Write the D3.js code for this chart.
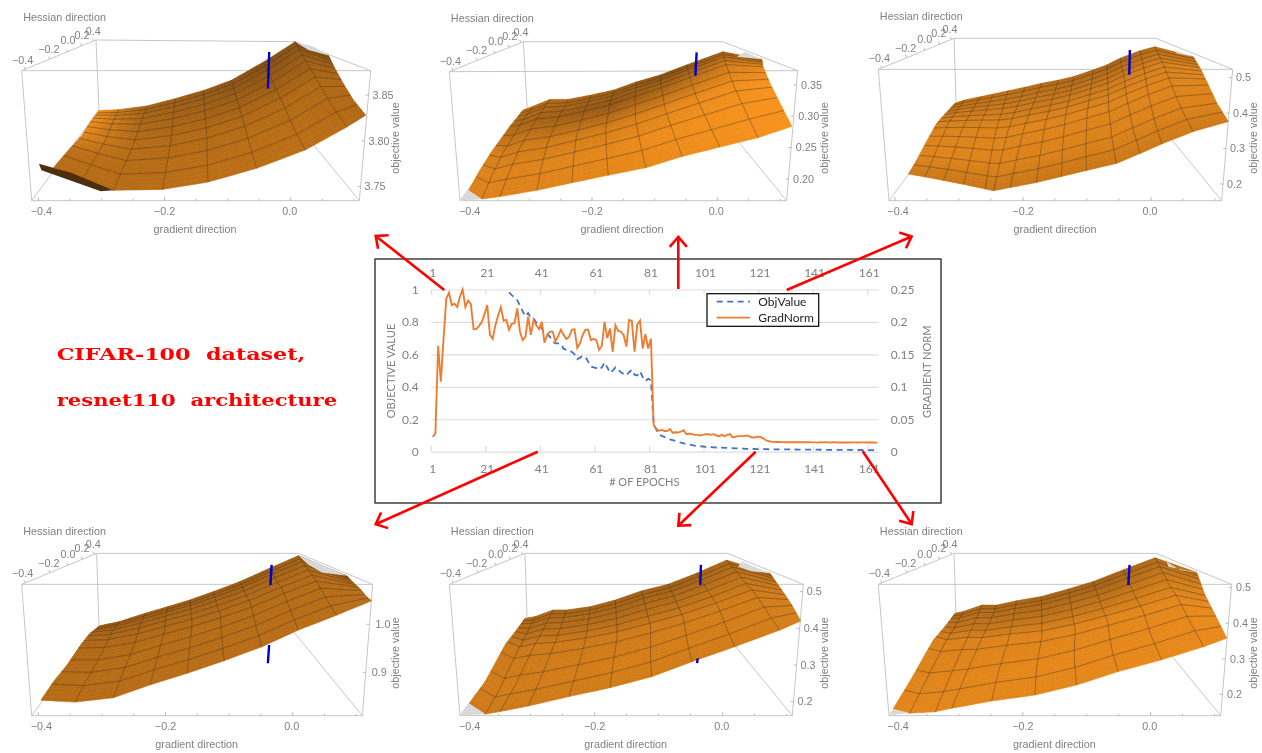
<!DOCTYPE html>
<html><head><meta charset="utf-8">
<script src="https://cdn.jsdelivr.net/npm/d3@7/dist/d3.min.js"></script>
<style>html,body{margin:0;padding:0;background:#fff}svg{display:block;filter:blur(0.35px)}</style>
</head><body><svg id="c" width="1262" height="753"></svg>
<script>
// ---------- line chart data ----------
const firstObjEpoch = 29;
const epochTicks = [1,21,41,61,81,101,121,141,161];
const objTicks = [0,0.2,0.4,0.6,0.8,1];
const gradTicks = [0,0.05,0.1,0.15,0.2,0.25];
const gradNorm = [.023,.028,.163,.108,.175,.236,.245,.226,.228,.223,.239,.25,.223,.233,.228,.189,.189,.194,.2,.212,
.226,.18,.174,.195,.21,.223,.202,.203,.188,.197,.198,.221,.185,.172,.177,.208,.18,.203,.195,.189,
.2,.168,.18,.185,.185,.17,.178,.188,.18,.174,.177,.188,.189,.16,.167,.18,.188,.188,.172,.174,
.172,.157,.163,.2,.175,.19,.154,.195,.186,.185,.18,.162,.203,.202,.154,.196,.202,.159,.181,.159,
.174,.041,.035,.0325,.0335,.032,.032,.035,.029,.03,.0295,.031,.033,.027,.028,.027,.026,.026,.025,.026,
.027,.027,.026,.027,.025,.024,.026,.024,.026,.027,.022,.023,.024,.024,.024,.025,.024,.022,.022,.023,
.023,.021,.018,.0165,.0155,.0152,.015,.015,.0148,.0146,.0146,.0145,.0147,.0146,.0145,.0145,.0147,.0145,.0146,.0144,
.0143,.014,.0146,.0143,.0145,.0144,.0142,.0145,.0144,.0142,.0143,.0141,.0143,.0142,.0143,.0144,.0142,.0143,.0144,.0141,
.0142,.0143,.0141,.014];
const objValue = [.982,.965,.95,.935,.9,.865,.835,.855,.825,.822,.795,.775,.76,.73,.725,.708,.68,.668,.668,.665,
.635,.628,.626,.615,.6,.57,.58,.59,.585,.555,.525,.52,.515,.505,.52,.55,.52,.485,.5,.52,
.505,.49,.478,.47,.49,.505,.475,.47,.495,.46,.435,.45,.44,.175,.135,.105,.098,.09,.082,.076,
.071,.066,.061,.056,.052,.049,.045,.041,.037,.035,.034,.032,.03,.029,.028,.027,.026,.026,.025,.024,
.023,.023,.022,.021,.02,.02,.019,.018,.018,.017,.0165,.016,.016,.0155,.0155,.015,.015,.0148,.0146,.0145,
.0143,.0142,.014,.0138,.0136,.0135,.0133,.0132,.013,.0128,.0127,.0125,.0124,.0122,.012,.0119,.0118,.0116,.0115,.0114,
.0113,.0112,.0111,.011,.011,.0108,.0107,.0106,.0105,.0104,.0103,.0102,.0101,.0101,.01,.01];
// ---------- surface readings: [gradient axis reading, objective axis reading] ----------
const front1=[[-.376,3.771],[-.329,3.759],[-.281,3.746],[-.203,3.747],[-.131,3.755],[-.054,3.770],[.023,3.790],[.089,3.815],[.119,3.828]];
const back1=[[-.304,3.833],[-.273,3.834],[-.228,3.838],[-.183,3.846],[-.138,3.855],[-.094,3.866],[-.043,3.886],[.007,3.908],[.060,3.893]];
const left1=[[-.352,3.790],[-.331,3.806],[-.317,3.821]];
const right1=[[.099,3.845],[.083,3.863],[.070,3.879]];
const front2=[[-.397,.182],[-.376,.168],[-.347,.172],[-.288,.182],[-.232,.194],[-.174,.206],[-.114,.218],[-.056,.236],[.004,.251],[.065,.266],[.119,.284]];
const back2=[[-.310,.310],[-.294,.316],[-.267,.327],[-.238,.327],[-.201,.334],[-.165,.342],[-.129,.355],[-.091,.366],[-.049,.382],[.009,.403],[.071,.391]];
const left2=[[-.379,.214],[-.360,.244],[-.331,.284]];
const right2=[[.100,.321],[.084,.353],[.073,.379]];
const front3=[[-.379,.228],[-.353,.220],[-.324,.210],[-.293,.199],[-.259,.186],[-.246,.181],[-.220,.190],[-.179,.204],[-.140,.221],[-.101,.238],[-.054,.258],[-.017,.286],[.017,.313],[.066,.348],[.121,.376]];
const back3=[[-.306,.428],[-.291,.437],[-.267,.446],[-.246,.454],[-.223,.463],[-.197,.473],[-.171,.484],[-.145,.493],[-.121,.503],[-.090,.522],[-.069,.536],[-.048,.555],[-.017,.576],[.006,.587],[.066,.559]];
const left3=[[-.366,.268],[-.351,.319],[-.335,.371],[-.320,.401]];
const right3=[[.103,.428],[.087,.489],[.077,.526]];
const front4=[[-.396,.842],[-.342,.838],[-.282,.847],[-.224,.874],[-.166,.898],[-.108,.924],[-.049,.953],[.009,.988],[.069,1.019],[.124,1.049]];
const back4=[[-.303,.997],[-.272,1.006],[-.232,1.023],[-.196,1.037],[-.161,1.051],[-.125,1.068],[-.083,1.089],[-.036,1.117],[.009,1.143],[.085,1.101]];
const left4=[[-.376,.881],[-.355,.915],[-.332,.960],[-.319,.981]];
const right4=[[.116,1.058],[.106,1.074],[.095,1.087]];
const front5=[[-.396,.195],[-.371,.166],[-.348,.173],[-.304,.188],[-.240,.214],[-.176,.238],[-.111,.268],[-.048,.309],[.019,.350],[.089,.395],[.122,.420]];
const back5=[[-.309,.427],[-.293,.432],[-.265,.450],[-.244,.450],[-.207,.459],[-.168,.477],[-.127,.502],[-.085,.520],[-.041,.550],[.006,.586],[.074,.550]];
const left5=[[-.371,.255],[-.340,.355],[-.324,.391]];
const right5=[[.108,.464],[.092,.505]];
const front6=[[-.403,.159],[-.377,.147],[-.337,.151],[-.311,.161],[-.249,.181],[-.181,.198],[-.116,.226],[-.051,.264],[.017,.297],[.083,.334],[.119,.358]];
const back6=[[-.306,.428],[-.293,.433],[-.264,.451],[-.241,.451],[-.210,.463],[-.171,.475],[-.129,.496],[-.090,.517],[-.043,.550],[.007,.584],[.072,.543]];
const left6=[[-.377,.236],[-.340,.353],[-.322,.390]];
const right6=[[.101,.423],[.085,.479]];
// brightness of the surface, rows front to back, columns left to right
const shade1=[[.62,.62,.66,.66,.6],[.66,.62,.64,.64,.58],[.85,.62,.6,.6,.58],[.95,.55,.5,.45,.5],[1,.5,.42,.3,.38]];
const shade2=[[.85,.85,.88,.95,1],[.85,.85,.9,.97,1],[.8,.78,.78,.9,1],[.6,.5,.4,.55,.9],[.65,.6,.5,.35,.6]];
const shade3=[[.74,.72,.72,.74,.76],[.86,.85,.84,.84,.84],[.84,.86,.86,.86,.86],[.74,.76,.72,.76,.84],[.66,.64,.6,.5,.66]];
const shade4=[[.62,.63,.63,.63,.63],[.62,.63,.63,.63,.63],[.6,.62,.62,.62,.63],[.54,.55,.56,.58,.6],[.5,.48,.46,.44,.5]];
const shade5=[[.76,.76,.78,.78,.8],[.78,.78,.8,.8,.8],[.74,.76,.76,.78,.78],[.62,.64,.6,.64,.72],[.58,.54,.5,.46,.6]];
const shade6=[[.88,.88,.88,.9,.9],[.86,.88,.9,.9,.92],[.84,.84,.86,.88,.9],[.68,.68,.66,.7,.82],[.6,.56,.52,.48,.66]];
const rows10=[0,.17,.32,.45,.56,.66,.75,.83,.9,.95,1];
const rows12=[0,.13,.25,.36,.46,.55,.63,.7,.77,.83,.89,.95,1];
// clipped (light grey) facets
const gray1=[[[.007,3.908],[.028,3.899],[.060,3.893],[.036,3.903]]];
const gray2=[[[-.411,.165],[-.397,.182],[-.376,.168]],[[.031,.395],[.044,.403],[.071,.391]]];
const gray3=[[[.037,.578],[.040,.569],[.066,.559]]];
const gray4=[[[.009,1.143],[.025,1.124],[.046,1.108],[.085,1.101],[.046,1.124]]];
const gray5=[[[-.410,.162],[-.396,.195],[-.371,.166]],[[.024,.568],[.030,.582],[.074,.550],[.045,.556]]];
const gray6=[[[-.410,.142],[-.403,.159],[-.377,.147]],[[.025,.573],[.028,.559],[.072,.543],[.046,.550]]];
// dark underside, panel 1
const flap1=[[-.399,3.775],[-.395,3.768],[-.301,3.745],[-.281,3.746],[-.347,3.765]];
// blue marker segments
const blue1=[[[-.034,3.897],[-.036,3.857]]];
const blue2=[[[-.033,.402],[-.035,.365]]];
const blue3=[[[-.033,.578],[-.034,.508]]];
const blue4=[[[-.033,1.124],[-.035,1.082]],[[-.037,.957],[-.039,.919]]];
const blue5=[[[-.034,.573],[-.035,.518]],[[-.039,.318],[-.040,.305]]];
const blue6=[[[-.033,.564],[-.035,.507]]];
const gradLabels=[-.4,-.2,0];
const gradMinor=[-.4,-.35,-.3,-.25,-.2,-.15,-.1,-.05,0,.05,.1];
const hessLabels=[-.4,-.2,0,.2,.4];
const ticks1=[3.75,3.8,3.85], ticks2=[.2,.25,.3,.35], ticks3=[.2,.3,.4,.5], ticks4=[.9,1.0], ticks5=[.2,.3,.4,.5], ticks6=[.2,.3,.4,.5];

// ---------- layout (pixels) ----------
const panels=[
 {ox:0,oy:0,Xa:115,Xb:872,zHi:3.85,Yh:285,zLo:3.75,Yl:560,fmt:".2f",ticks:ticks1,lx:4,tx:195,tdx:25,
  TL:[65,212],TR:[1112,212],BL:[95,602],BR:[1078,602],bTL:[288,120],bTR:[885,125],
  front:front1,back:back1,left:left1,right:right1,shade:shade1,rows:rows10,gray:gray1,blue:blue1,flap:flap1},
 {ox:430,oy:0,Xa:110,Xb:862,zHi:.35,Yh:255,zLo:.2,Yl:537,fmt:".2f",ticks:ticks2,lx:4.5,tx:192,tdx:26.6,
  TL:[58,215],TR:[1103,212],BL:[90,602],BR:[1070,602],bTL:[280,125],bTR:[878,125],
  front:front2,back:back2,left:left2,right:right2,shade:shade2,rows:rows10,gray:gray2,blue:blue2},
 {ox:860,oy:0,Xa:105,Xb:873,zHi:.5,Yh:233,zLo:.2,Yl:552,fmt:".1f",ticks:ticks3,lx:4,tx:195,tdx:21,
  TL:[55,208],TR:[1118,208],BL:[87,602],BR:[1085,602],bTL:[282,115],bTR:[888,115],
  front:front3,back:back3,left:left3,right:right3,shade:shade3,rows:rows12,gray:gray3,blue:blue3},
 {ox:0,oy:515,Xa:115,Xb:878,zHi:1.0,Yh:328,zLo:.9,Yl:472,fmt:".1f",ticks:ticks4,lx:6,tx:196.7,tdx:23,
  TL:[65,208],TR:[1118,208],BL:[95,602],BR:[1087,602],bTL:[290,115],bTR:[895,115],
  front:front4,back:back4,left:left4,right:right4,shade:shade4,rows:rows10,gray:gray4,blue:blue4},
 {ox:430,oy:515,Xa:110,Xb:878,zHi:.5,Yh:230,zLo:.2,Yl:560,fmt:".1f",ticks:ticks5,lx:4,tx:195.7,tdx:21,
  TL:[58,208],TR:[1120,208],BL:[90,602],BR:[1087,602],bTL:[285,115],bTR:[892,115],
  front:front5,back:back5,left:left5,right:right5,shade:shade5,rows:rows10,gray:gray5,blue:blue5},
 {ox:860,oy:515,Xa:105,Xb:872,zHi:.5,Yh:218,zLo:.2,Yl:538,fmt:".1f",ticks:ticks6,lx:4.5,tx:194.3,tdx:22,
  TL:[55,208],TR:[1115,208],BL:[87,602],BR:[1082,602],bTL:[282,115],bTR:[888,115],
  front:front6,back:back6,left:left6,right:right6,shade:shade6,rows:rows10,gray:gray6,blue:blue6}
];
const svg=d3.select("#c");
const SANS="'Liberation Sans',Arial,sans-serif", TICK="#808080", FS=10.8;
const colorOf=d3.scaleLinear().domain([0,1]).range(["#4a2a08","#f7921c"]);
const at=(a,t)=>{const s=t*(a.length-1),i=Math.min(Math.floor(s),a.length-2),f=s-i;return[a[i][0]*(1-f)+a[i+1][0]*f,a[i][1]*(1-f)+a[i+1][1]*f];};
const bil=(m,u,v)=>{const r=v*(m.length-1),c=u*(m[0].length-1),i=Math.min(Math.floor(r),m.length-2),j=Math.min(Math.floor(c),m[0].length-2),fr=r-i,fc=c-j;
 return (m[i][j]*(1-fc)+m[i][j+1]*fc)*(1-fr)+(m[i+1][j]*(1-fc)+m[i+1][j+1]*fc)*fr;};

panels.forEach(p=>{
 const g=svg.append("g");
 const px=a=>[p.ox+a[0]/3,p.oy+a[1]/3];
 const x=d3.scaleLinear().domain([-.4,0]).range([p.ox+p.Xa/3,p.ox+p.Xb/3]);
 const y=d3.scaleLinear().domain([p.zLo,p.zHi]).range([p.oy+p.Yl/3,p.oy+p.Yh/3]);
 const TL=px(p.TL),TR=px(p.TR),BL=px(p.BL),BR=px(p.BR),bTL=px(p.bTL),bTR=px(p.bTR);
 const bBL=[BL[0]+67.3,BL[1]-90.7],bBR=[BR[0]-74.3,BR[1]-90.7];
 const line=d3.line();
 const edge=(a,b)=>g.append("path").attr("d",line([a,b])).attr("stroke","#c6c6c6").attr("stroke-width",1).attr("fill","none");
 [[bTL,bTR],[bTL,bBL],[BL,bBL],[BR,bBR],[TL,bTL],[TR,bTR],[TL,TR],[TL,BL],[TR,BR],[BL,BR]].forEach(e=>edge(e[0],e[1]));
 gradMinor.forEach(v=>{const major=Math.abs(v*10-Math.round(v*10))<1e-6&&Math.round(v*10)%2===0;
  g.append("path").attr("d",line([[x(v),BL[1]],[x(v),BL[1]-(major?3.5:2)]])).attr("stroke","#aaa").attr("stroke-width",.8).attr("fill","none");});
 const edgeX=yy=>TR[0]+(BR[0]-TR[0])*(yy-TR[1])/(BR[1]-TR[1]);
 p.ticks.forEach(v=>{const yy=y(v),xx=edgeX(yy);
  g.append("path").attr("d",line([[xx-3,yy],[xx,yy]])).attr("stroke","#aaa").attr("stroke-width",.8);
  g.append("text").attr("x",xx+p.lx).attr("y",yy).attr("dy","0.35em").attr("font-family",SANS).attr("font-size",FS).attr("fill",TICK).text(d3.format(p.fmt)(v));});
 const hOff=[[1,-10.7],[27.3,-21.4],[46.3,-30],[60.3,-35.7],[71.6,-39.7]],hT=[.05,.38,.62,.81,.97];
 hessLabels.forEach((v,i)=>{
  const t=hT[i],xx=TL[0]+(bTL[0]-TL[0])*t,yy=TL[1]+(bTL[1]-TL[1])*t;
  g.append("path").attr("d",line([[xx,yy],[xx-1.5,yy-2.5]])).attr("stroke","#aaa").attr("stroke-width",.8);
  g.append("text").attr("x",TL[0]+hOff[i][0]).attr("y",TL[1]+hOff[i][1]).attr("dy","0.35em").attr("text-anchor","middle")
   .attr("font-family",SANS).attr("font-size",FS).attr("fill",TICK).text(d3.format(".1f")(v).replace("-","\u2212"));});
 g.append("text").attr("x",TL[0]+1.5).attr("y",TL[1]-53.5).attr("dy","0.35em").attr("font-family",SANS).attr("font-size",FS).attr("fill",TICK).text("Hessian direction");
 gradLabels.forEach((v,i)=>g.append("text").attr("x",x(v)+[3,0,-1][i]).attr("y",BL[1]+11).attr("dy","0.35em").attr("text-anchor","middle")
   .attr("font-family",SANS).attr("font-size",FS).attr("fill",TICK).text(d3.format(".1f")(v).replace("-","\u2212")));
 g.append("text").attr("x",p.ox+p.tx).attr("y",BL[1]+28.6).attr("dy","0.35em").attr("text-anchor","middle").attr("font-family",SANS).attr("font-size",FS).attr("fill",TICK).text("gradient direction");
 g.append("text").attr("transform",`translate(${TR[0]+p.tdx},${p.oy+138}) rotate(-90)`).attr("dy","0.35em").attr("text-anchor","middle").attr("font-family",SANS).attr("font-size",FS).attr("fill",TICK).text("objective value");

 const L=[p.front[0],...p.left,p.back[0]],R=[p.front[p.front.length-1],...p.right,p.back[p.back.length-1]];
 const F00=p.front[0],F10=p.front[p.front.length-1],B01=p.back[0],B11=p.back[p.back.length-1];
 const S=(u,v)=>{const f=at(p.front,u),b=at(p.back,u),l=at(L,v),r=at(R,v);
  return [0,1].map(k=>(1-v)*f[k]+v*b[k]+(1-u)*l[k]+u*r[k]-((1-u)*(1-v)*F00[k]+u*(1-v)*F10[k]+(1-u)*v*B01[k]+u*v*B11[k]));};
 const P=(u,v)=>{const s=S(u,v);return[x(s[0]),y(s[1])];};
 const nc=p.front.length-1,nr=p.rows.length-1,sub=4;
 const vAt=i=>{const s=i/sub,k=Math.min(Math.floor(s),nr-1),f=s-k;return p.rows[k]*(1-f)+p.rows[k+1]*f;};
 const sg=g.append("g");
 const cells=[];
 for(let i=nr*sub-1;i>=0;i--)for(let j=0;j<nc*sub;j++)cells.push([i,j]);
 const cellColor=([i,j])=>colorOf(bil(p.shade,(j+.5)/(nc*sub),(vAt(i)+vAt(i+1))/2));
 sg.selectAll("path").data(cells).join("path")
  .attr("d",([i,j])=>{const u0=j/(nc*sub),u1=(j+1)/(nc*sub),v0=vAt(i),v1=vAt(i+1);return line([P(u0,v0),P(u1,v0),P(u1,v1),P(u0,v1)])+"Z";})
  .attr("fill",cellColor).attr("stroke",cellColor).attr("stroke-width",.6);
 const gridC="rgba(70,50,30,.62)";
 for(let i=1;i<nr;i++){const pts=d3.range(0,nc*sub+1).map(j=>P(j/(nc*sub),p.rows[i]));
  g.append("path").attr("d",line(pts)).attr("fill","none").attr("stroke",gridC).attr("stroke-width",.7);}
 for(let j=1;j<nc;j++){const pts=d3.range(0,nr*sub+1).map(i=>P(j/nc,vAt(i)));
  g.append("path").attr("d",line(pts)).attr("fill","none").attr("stroke",gridC).attr("stroke-width",.7);}
 const toPx=a=>[x(a[0]),y(a[1])];
 if(p.flap) g.append("path").attr("d",line(p.flap.map(toPx))+"Z").attr("fill","#4d2e0d");
 p.gray.forEach(f=>g.append("path").attr("d",line(f.map(toPx))+"Z").attr("fill","#d9d9d9"));
 p.blue.forEach(s=>g.append("path").attr("d",line(s.map(toPx))).attr("stroke","#0000cc").attr("stroke-width",2.4).attr("fill","none"));
});

// ---------- centre chart ----------
const LATO="Lato,'Open Sans',sans-serif", AX="#808080";
svg.append("rect").attr("x",375).attr("y",259).attr("width",566).attr("height",244).attr("fill","#fff").attr("stroke","#333").attr("stroke-width",1.4);
const epochs=d3.range(1,gradNorm.length+1);
const xE=d3.scaleBand().domain(epochs).range([431.3,878.7]).padding(0);
const yO=d3.scaleLinear().domain([0,1]).range([451.7,289.5]);
const yG=d3.scaleLinear().domain([0,.25]).range([451.7,289.5]);
const c=svg.append("g");
const styleAxis=a=>{a.select(".domain").remove();a.selectAll("text").attr("font-family",LATO).attr("font-size",12).attr("fill",AX);};
c.append("g").attr("transform","translate(431.3,0)").call(d3.axisLeft(yO).tickValues(objTicks).tickSize(-447.4).tickPadding(12.6).tickFormat(d3.format("~g")))
 .call(styleAxis).call(a=>a.selectAll("line").attr("stroke","#dedede").attr("stroke-width",1.2));
c.append("g").attr("transform","translate(878.7,0)").call(d3.axisRight(yG).tickValues(gradTicks).tickSize(0).tickPadding(12).tickFormat(d3.format("~g"))).call(styleAxis);
c.append("g").attr("transform","translate(0,451.7)").call(d3.axisBottom(xE).tickValues(epochTicks).tickSize(0).tickPadding(13)).call(styleAxis);
c.append("g").attr("transform","translate(0,289.5)").call(d3.axisTop(xE).tickValues(epochTicks).tickSize(0).tickPadding(12.5)).call(styleAxis);
epochTicks.forEach(e=>{c.append("line").attr("x1",xE(e)).attr("x2",xE(e)).attr("y1",445.7).attr("y2",451.7).attr("stroke","#dedede").attr("stroke-width",1.2);
 c.append("line").attr("x1",xE(e)).attr("x2",xE(e)).attr("y1",289.5).attr("y2",295).attr("stroke","#dedede").attr("stroke-width",1.2);});
c.append("text").attr("x",644.3).attr("y",481.7).attr("dy","0.35em").attr("text-anchor","middle").attr("font-family",LATO).attr("font-size",11).attr("fill",AX).text("# OF EPOCHS");
c.append("text").attr("transform","translate(390.7,371) rotate(-90)").attr("dy","0.35em").attr("text-anchor","middle").attr("font-family",LATO).attr("font-size",11.1).attr("fill",AX).text("OBJECTIVE VALUE");
c.append("text").attr("transform","translate(926.7,371.7) rotate(-90)").attr("dy","0.35em").attr("text-anchor","middle").attr("font-family",LATO).attr("font-size",11.1).attr("fill",AX).text("GRADIENT NORM");
const xMid=e=>xE(e)+xE.bandwidth()/2;
c.append("path").attr("d",d3.line().x((d,i)=>xMid(i+firstObjEpoch)).y(d=>yO(d))(objValue)).attr("fill","none").attr("stroke","#4472C4").attr("stroke-width",1.8).attr("stroke-dasharray","6 4.5");
c.append("path").attr("d",d3.line().x((d,i)=>xMid(i+1)).y(d=>yG(d))(gradNorm)).attr("fill","none").attr("stroke","#ED7D31").attr("stroke-width",1.9);
const lg=c.append("g");
lg.append("rect").attr("x",707).attr("y",293.7).attr("width",111.7).attr("height",32.6).attr("fill","#fff").attr("stroke","#000").attr("stroke-width",1.2);
[["ObjValue","#4472C4","6 4.5",301.7],["GradNorm","#ED7D31",null,317.7]].forEach(r=>{
 lg.append("line").attr("x1",716.7).attr("x2",750).attr("y1",r[3]).attr("y2",r[3]).attr("stroke",r[1]).attr("stroke-width",1.8).attr("stroke-dasharray",r[2]);
 lg.append("text").attr("x",758.3).attr("y",r[3]).attr("dy","0.35em").attr("font-family",LATO).attr("font-size",12).attr("fill","#222").text(r[0]);});

// ---------- red annotations ----------
const SERIF="'DejaVu Serif',serif";
svg.append("text").attr("x",56.7).attr("y",360).attr("font-family",SERIF).attr("font-weight",700).attr("font-size",17.5).attr("fill","#f00").attr("textLength",248.5).attr("lengthAdjust","spacingAndGlyphs").text("CIFAR-100\u00a0 dataset,");
svg.append("text").attr("x",56.7).attr("y",406).attr("font-family",SERIF).attr("font-weight",700).attr("font-size",17.5).attr("fill","#f00").attr("textLength",280.5).attr("lengthAdjust","spacingAndGlyphs").text("resnet110\u00a0 architecture");
const arrows=[[444.3,290,375.7,236],[678.3,289,678.3,237],[786.7,290,911.6,236.5],[537.7,451.7,375.7,524.3],[755.7,451.7,678.3,525.7],[862.7,451.3,911.7,524]];
arrows.forEach(([x1,y1,x2,y2])=>{
 const a=Math.atan2(y1-y2,x1-x2),len=13,sp=.72;
 const pth=d3.path();pth.moveTo(x1,y1);pth.lineTo(x2,y2);
 pth.moveTo(x2+len*Math.cos(a+sp),y2+len*Math.sin(a+sp));pth.lineTo(x2,y2);pth.lineTo(x2+len*Math.cos(a-sp),y2+len*Math.sin(a-sp));
 svg.append("path").attr("d",pth.toString()).attr("fill","none").attr("stroke","#f00").attr("stroke-width",2.6);
});
</script></body></html>
